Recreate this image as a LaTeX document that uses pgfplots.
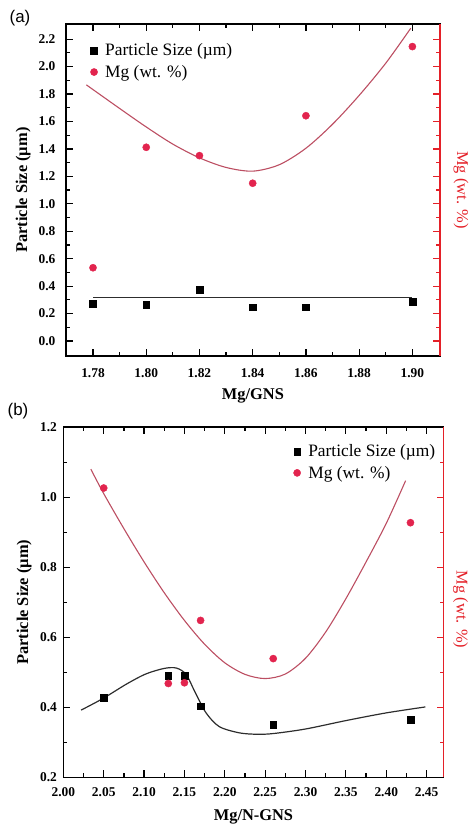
\documentclass[border=0pt]{standalone}
\usepackage{fontspec}
\setmainfont{Liberation Serif}
\newfontfamily\panelfont{Liberation Sans}
\usepackage{pgfplots}
\pgfplotsset{compat=1.18}

\definecolor{mgpt}{RGB}{226,36,78}
\definecolor{mgfit}{RGB}{188,78,98}
\definecolor{raxis}{RGB}{228,32,40}
\definecolor{psfit}{RGB}{45,45,45}

\tikzset{tk/.style={black, line width=1.2bp}, rtk/.style={raxis, line width=1.2bp}}

\pgfplotsset{
  panel/.style={
    scale only axis,
    axis line style={line width=1.6bp},
    tick align=inside,
    major tick length=7bp, minor tick length=4bp,
    tick style={black, line width=1.2bp},
    xtick pos=both, ytick pos=left,
    /pgf/number format/assume math mode=true,
    ticklabel style={font=\fontsize{13.5}{15}\selectfont\bfseries},
    label style={font=\fontsize{16.5}{19}\selectfont\bfseries},
    legend style={draw=none, fill=none, font=\fontsize{17.5}{20}\selectfont,
      legend cell align=left, row sep=4bp},
    legend image code/.code={\path (-8bp,0bp) (9bp,0bp); \draw[##1] plot coordinates {(0bp,0bp)};},
  },
  rside/.style={
    scale only axis,
    axis y line*=right, axis x line=none,
    y axis line style={-, raxis, line width=1.6bp},
    ytick=\empty,
    label style={font=\fontsize{16.5}{19}\selectfont, text=raxis},
  },
  fmtx/.style={xticklabel style={/pgf/number format/fixed, /pgf/number format/fixed zerofill, /pgf/number format/precision=2}},
  fmty/.style={yticklabel style={/pgf/number format/fixed, /pgf/number format/fixed zerofill, /pgf/number format/precision=1}},
  ps/.style={only marks, mark=square*, mark size=3.4bp, black},
  mg/.style={only marks, mark=*, mark size=3.6bp, mgpt},
}

\begin{document}
\begin{tikzpicture}
\path (0,0) rectangle (472bp,827bp);

% ---------- (a) ----------
\begin{axis}[panel, fmtx, fmty,
  at={(66bp,470bp)}, anchor=south west,
  width=375bp, height=333bp,
  xmin=1.7698, xmax=1.9104, ymin=-0.111, ymax=2.311,
  xtick={1.78,1.80,1.82,1.84,1.86,1.88,1.90},
  ytick={0,0.2,0.4,0.6,0.8,1.0,1.2,1.4,1.6,1.8,2.0,2.2},
  xticklabel style={yshift=-9bp},
  yticklabel style={xshift=-7bp},
  xlabel={Mg/GNS}, ylabel={Particle Size (µm)},
  xlabel style={at={(axis description cs:0.5,-0.129)}, anchor=base},
  ylabel style={at={(axis description cs:-0.114,0.5)}, anchor=center},
  legend style={at={(axis description cs:0.045,0.953)}, anchor=north west},
]
\pgfplotsinvokeforeach{1.78,1.80,1.82,1.84,1.86,1.88,1.90}{
  \draw[tk] (axis cs:#1,-0.111) -- ++(0pt,7bp);
  \draw[tk] (axis cs:#1,2.311) -- ++(0pt,-7bp);}
\pgfplotsinvokeforeach{1.79,1.81,1.83,1.85,1.87,1.89}{
  \draw[tk] (axis cs:#1,-0.111) -- ++(0pt,4bp);
  \draw[tk] (axis cs:#1,2.311) -- ++(0pt,-4bp);}
\pgfplotsinvokeforeach{0,0.2,0.4,0.6,0.8,1.0,1.2,1.4,1.6,1.8,2.0,2.2}{
  \draw[tk] (axis cs:1.7698,#1) -- ++(7bp,0pt);
  \draw[rtk] (axis cs:1.9104,#1) -- ++(-7bp,0pt);}
\pgfplotsinvokeforeach{0.1,0.3,0.5,0.7,0.9,1.1,1.3,1.5,1.7,1.9,2.1}{
  \draw[tk] (axis cs:1.7698,#1) -- ++(4bp,0pt);
  \draw[rtk] (axis cs:1.9104,#1) -- ++(-4bp,0pt);}
\addplot[ps] coordinates {(1.78,0.274) (1.80,0.262) (1.82,0.376) (1.84,0.247) (1.86,0.247) (1.90,0.284)};
\addlegendentry{Particle Size (µm)}
\addplot[mg] coordinates {(1.78,0.534) (1.80,1.412) (1.82,1.351) (1.84,1.150) (1.86,1.642) (1.90,2.146)};
\addlegendentry{Mg (wt. \%)}
\addplot[psfit, line width=1.2bp, forget plot] coordinates {(1.78,0.315) (1.90,0.315)};
\addplot[mgfit, line width=1.1bp, smooth, forget plot] coordinates {
  (1.7775,1.867) (1.79,1.695) (1.80,1.560) (1.81,1.435) (1.82,1.335) (1.83,1.265)
  (1.84,1.238) (1.85,1.285) (1.86,1.405) (1.87,1.580) (1.88,1.790) (1.89,2.025)
  (1.8994,2.280)};
\end{axis}
\begin{axis}[rside,
  at={(66bp,470bp)}, anchor=south west,
  width=375bp, height=333bp,
  xmin=1.7698, xmax=1.9104, ymin=-0.111, ymax=2.311,
  ylabel={Mg (wt. \%)},
  ylabel style={at={(axis description cs:1.056,0.5)}, anchor=center, rotate=180},
]
\end{axis}

% ---------- (b) ----------
\begin{axis}[panel, fmtx, fmty,
  at={(63.5bp,48bp)}, anchor=south west,
  width=381bp, height=351bp,
  xmin=2.0, xmax=2.471, ymin=0.2, ymax=1.2,
  xtick={2.00,2.05,2.10,2.15,2.20,2.25,2.30,2.35,2.40,2.45},
  ytick={0.2,0.4,0.6,0.8,1.0,1.2},
  xticklabel style={yshift=-7bp},
  yticklabel style={xshift=-3bp},
  xlabel={Mg/N-GNS}, ylabel={Particle Size (µm)},
  xlabel style={at={(axis description cs:0.5,-0.122)}, anchor=base},
  ylabel style={at={(axis description cs:-0.103,0.5)}, anchor=center},
  legend style={at={(axis description cs:0.585,0.962)}, anchor=north west},
]
\pgfplotsinvokeforeach{2.05,2.10,2.15,2.20,2.25,2.30,2.35,2.40,2.45}{
  \draw[tk] (axis cs:#1,0.2) -- ++(0pt,7bp);
  \draw[tk] (axis cs:#1,1.2) -- ++(0pt,-7bp);}
\pgfplotsinvokeforeach{2.025,2.075,2.125,2.175,2.225,2.275,2.325,2.375,2.425}{
  \draw[tk] (axis cs:#1,0.2) -- ++(0pt,4bp);
  \draw[tk] (axis cs:#1,1.2) -- ++(0pt,-4bp);}
\pgfplotsinvokeforeach{0.4,0.6,0.8,1.0}{
  \draw[tk] (axis cs:2.0,#1) -- ++(7bp,0pt);
  \draw[rtk] (axis cs:2.471,#1) -- ++(-7bp,0pt);}
\pgfplotsinvokeforeach{0.3,0.5,0.7,0.9,1.1}{
  \draw[tk] (axis cs:2.0,#1) -- ++(4bp,0pt);
  \draw[rtk] (axis cs:2.471,#1) -- ++(-4bp,0pt);}
\addplot[ps] coordinates {(2.05,0.427) (2.13,0.490) (2.15,0.491) (2.17,0.403) (2.26,0.351) (2.43,0.365)};
\addlegendentry{Particle Size (µm)}
\addplot[mg] coordinates {(2.05,1.026) (2.13,0.468) (2.15,0.470) (2.17,0.648) (2.26,0.539) (2.43,0.927)};
\addlegendentry{Mg (wt. \%)}
\addplot[psfit, line width=1.2bp, smooth, forget plot] coordinates {
  (2.022,0.392) (2.049,0.425) (2.078,0.466) (2.102,0.495) (2.125,0.511) (2.140,0.512)
  (2.152,0.494) (2.163,0.444) (2.1765,0.385) (2.193,0.345) (2.218,0.327) (2.24,0.323)
  (2.26,0.325) (2.300,0.338) (2.35,0.362) (2.40,0.384) (2.4485,0.401)};
\addplot[mgfit, line width=1.1bp, smooth, forget plot] coordinates {
  (2.034,1.080) (2.05,1.010) (2.075,0.910) (2.10,0.815) (2.125,0.727) (2.15,0.648)
  (2.175,0.580) (2.20,0.527) (2.225,0.494) (2.25,0.482) (2.275,0.495) (2.30,0.540)
  (2.325,0.615) (2.35,0.710) (2.375,0.815) (2.40,0.925) (2.424,1.047)};
\end{axis}
\begin{axis}[rside,
  at={(63.5bp,48bp)}, anchor=south west,
  width=381bp, height=351bp,
  xmin=2.0, xmax=2.471, ymin=0.2, ymax=1.2,
  ylabel={Mg (wt. \%)},
  ylabel style={at={(axis description cs:1.045,0.479)}, anchor=center, rotate=180},
]
\end{axis}

\node[font=\panelfont\fontsize{17}{20}\selectfont] at (20bp,809bp) {(a)};
\node[font=\panelfont\fontsize{17}{20}\selectfont] at (18bp,415bp) {(b)};
\end{tikzpicture}
\end{document}
